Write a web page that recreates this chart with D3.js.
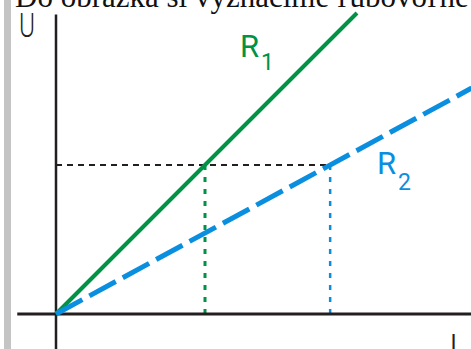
<!DOCTYPE html>
<html>
<head>
<meta charset="utf-8">
<script src="https://cdn.jsdelivr.net/npm/d3@7"></script>
<style>
  body { margin: 0; background: #fff; }
  svg { display: block; }
</style>
</head>
<body>
<div id="chart"></div>
<script>
// Values (arbitrary units: the chosen voltage is 1)
const resistors = ["R1", "R2"];
const currentsAtU = [1, 1.84];      // current where each line reaches the marked voltage
const lineEndCurrent = [2.02, 2.79]; // where each drawn line stops
const markedVoltage = 1;
const colors = ["#009245", "#0a8ee0"];
const captionText = "Do obrázka si vyznačíme ľubovoľné napätie";

const width = 471, height = 349;

// origin at (56,314), one unit = 149 px on both axes
const x = d3.scaleLinear().domain([0, 1]).range([56, 205]);
const y = d3.scaleLinear().domain([0, 1]).range([314, 165]);

const svg = d3.select("#chart").append("svg")
  .attr("width", width)
  .attr("height", height);

// gray page margin bar
svg.append("rect")
  .attr("x", 4).attr("y", 0)
  .attr("width", 7).attr("height", height)
  .attr("fill", "#c4c4c4");

// caption line from the page, cut off at the top
svg.append("text")
  .attr("x", 15).attr("y", 7)
  .style("font-family", "Liberation Serif, serif")
  .style("font-size", "31px")
  .attr("fill", "#111")
  .text(captionText);

// guide lines at the marked voltage
svg.append("line")
  .attr("x1", x(0)).attr("x2", x(currentsAtU[1]))
  .attr("y1", y(markedVoltage)).attr("y2", y(markedVoltage))
  .attr("stroke", "#231f20")
  .attr("stroke-width", 2)
  .attr("stroke-dasharray", "6,5");

svg.selectAll(".drop")
  .data(currentsAtU)
  .enter()
  .append("line")
  .attr("class", "drop")
  .attr("x1", d => x(d)).attr("x2", d => x(d))
  .attr("y1", y(markedVoltage)).attr("y2", y(0))
  .attr("stroke", (d, i) => colors[i])
  .attr("stroke-width", (d, i) => i === 0 ? 3 : 2.5)
  .attr("stroke-dasharray", "5,7");

// axes
svg.append("line")
  .attr("x1", x(-0.26)).attr("x2", width)
  .attr("y1", y(0)).attr("y2", y(0))
  .attr("stroke", "#231f20").attr("stroke-width", 3);

svg.append("line")
  .attr("x1", x(0)).attr("x2", x(0))
  .attr("y1", y(2.01)).attr("y2", height)
  .attr("stroke", "#231f20").attr("stroke-width", 2.5);

// U-I lines
svg.selectAll(".res")
  .data(resistors)
  .enter()
  .append("line")
  .attr("class", "res")
  .attr("x1", x(0)).attr("y1", y(0))
  .attr("x2", (d, i) => x(lineEndCurrent[i]))
  .attr("y2", (d, i) => y(lineEndCurrent[i] * markedVoltage / currentsAtU[i]))
  .attr("stroke", (d, i) => colors[i])
  .attr("stroke-width", (d, i) => i === 0 ? 4 : 5)
  .attr("stroke-dasharray", (d, i) => i === 0 ? null : "30,8");

// axis labels
const labelFont = "Roboto, Liberation Sans, sans-serif";
svg.append("text")
  .attr("x", 19).attr("y", 37)
  .attr("textLength", 16).attr("lengthAdjust", "spacingAndGlyphs")
  .style("font-family", labelFont).style("font-weight", 300)
  .style("font-size", "34px")
  .attr("fill", "#231f20")
  .text("U");

svg.append("text")
  .attr("x", 449).attr("y", 358)
  .style("font-family", labelFont).style("font-weight", 300)
  .style("font-size", "34px")
  .attr("fill", "#231f20")
  .text("I");

// resistor labels
const labelPos = [
  { dx: 240 - x(1), dy: 57 - y(1) },
  { dx: 377 - x(1), dy: 174 - y(1) }
];
resistors.forEach((name, i) => {
  const t = svg.append("text")
    .attr("x", x(1) + labelPos[i].dx)
    .attr("y", y(1) + labelPos[i].dy)
    .style("font-family", labelFont)
    .style("font-size", "31px")
    .attr("fill", colors[i]);
  t.append("tspan").text(name[0]);
  t.append("tspan")
    .attr("dx", 2)
    .attr("dy", i === 0 ? 13 : 16)
    .style("font-size", "23px")
    .text(name.slice(1));
});
</script>
</body>
</html>
